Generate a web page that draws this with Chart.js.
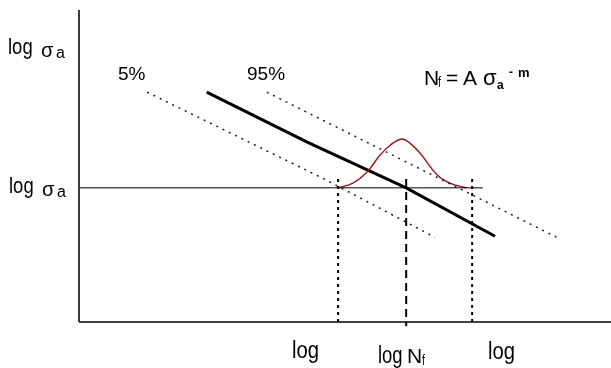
<!DOCTYPE html>
<html>
<head>
<meta charset="utf-8">
<script src="https://cdn.jsdelivr.net/npm/chart.js@4/dist/chart.umd.min.js"></script>
<style>
  html, body { margin: 0; padding: 0; background: #fff; }
  #caja { width: 611px; height: 368px; position: relative; }
</style>
</head>
<body>
<div id="caja"><canvas id="graficoSN"></canvas></div>
<script>
// escala esquematica: x = log N (0..100), y = log sigma_a (0..60)
const medianaX = [24.0, 42.9, 61.5, 78.2];
const medianaY = [44.2, 34.6, 25.8, 16.5];

const p5X = [12.8, 45.7, 66.9];
const p5Y = [44.2, 27.7, 16.3];

const p95X = [35.3, 89.8];
const p95Y = [44.2, 16.3];

const campanaX = [48.7, 51.5, 54.1, 56.6, 58.5, 60.7, 62.2, 64.1, 67.3, 69.7, 72.9];
const campanaY = [25.8, 26.7, 28.8, 32.1, 34.0, 35.2, 34.4, 32.5, 28.3, 26.7, 25.8];

const nivelSigma = 25.8;          // log sigma_a de ensayo
const nivelFinX = 75.9;
const verticalesX = [48.7, 61.5, 73.9]; // log N 5%, log Nf, log N 95%
const verticalTope = 27.5;

const juntar = (xs, ys) => xs.map((x, i) => ({ x: x, y: ys[i] }));

const textos = [
    { t: 'log', x: 8, y: 54, size: 22, sx: 0.84 },
    { t: 'σ', x: 41, y: 57, size: 20 },
    { t: 'a', x: 56, y: 58, size: 16 },
    { t: 'log', x: 9, y: 193, size: 22, sx: 0.84 },
    { t: 'σ', x: 42, y: 196, size: 20 },
    { t: 'a', x: 57, y: 197, size: 16 },
    { t: '5%', x: 118, y: 80, size: 19 },
    { t: '95%', x: 247, y: 80, size: 19 },
    { t: 'N', x: 424, y: 85, size: 21 },
    { t: 'f', x: 438, y: 87, size: 15, sx: 0.7 },
    { t: '=', x: 446, y: 85, size: 21 },
    { t: 'A', x: 463, y: 85, size: 21 },
    { t: 'σ', x: 483, y: 85, size: 22 },
    { t: 'a', x: 497, y: 89, size: 12, bold: true },
    { t: '-', x: 509, y: 76, size: 12, bold: true },
    { t: 'm', x: 518, y: 77, size: 13, bold: true },
    { t: 'log', x: 292, y: 358, size: 23, sx: 0.88 },
    { t: 'log', x: 378, y: 363, size: 23, sx: 0.8 },
    { t: 'N', x: 407, y: 363, size: 21 },
    { t: 'f', x: 422, y: 365, size: 15, sx: 0.7 },
    { t: 'log', x: 488, y: 359, size: 23, sx: 0.88 }
];

const pluginTextos = {
    id: 'textos',
    afterDraw(chart) {
        const ctx = chart.ctx;
        ctx.save();
        ctx.fillStyle = '#000';
        ctx.textBaseline = 'alphabetic';
        textos.forEach(e => {
            ctx.save();
            ctx.font = (e.bold ? 'bold ' : '') + e.size + 'px "Liberation Sans", Arial, sans-serif';
            ctx.translate(e.x, e.y);
            ctx.scale(e.sx || 1, 1);
            ctx.fillText(e.t, 0, 0);
            ctx.restore();
        });
        ctx.restore();
    }
};

const linea = (data, color, ancho, dash) => ({
    data: data,
    showLine: true,
    borderColor: color,
    borderWidth: ancho,
    borderDash: dash || [],
    pointRadius: 0,
    fill: false,
    tension: 0,
    clip: false
});

const datasets = [
    linea([{ x: 0, y: 0 }, { x: 0, y: 60 }], '#3a3a3a', 2),
    linea([{ x: 0, y: 0 }, { x: 100, y: 0 }], '#000', 1.5),
    linea([{ x: 0, y: nivelSigma }, { x: nivelFinX, y: nivelSigma }], '#000', 1),
    linea(juntar(p5X, p5Y), '#222', 1.5, [2, 5]),
    linea(juntar(p95X, p95Y), '#222', 1.5, [2, 5]),
    linea([{ x: verticalesX[0], y: verticalTope }, { x: verticalesX[0], y: 0 }], '#000', 2, [3, 4]),
    linea([{ x: verticalesX[1], y: verticalTope }, { x: verticalesX[1], y: -0.8 }], '#000', 2, [8, 5]),
    linea([{ x: verticalesX[2], y: verticalTope }, { x: verticalesX[2], y: 0 }], '#000', 2, [3, 4]),
    Object.assign(linea(juntar(campanaX, campanaY), '#a01212', 1.4), { tension: 0.4 }),
    linea(juntar(medianaX, medianaY), '#000', 3)
];

new Chart(document.getElementById('graficoSN'), {
    type: 'scatter',
    data: { datasets: datasets },
    options: {
        responsive: true,
        maintainAspectRatio: false,
        animation: false,
        layout: { padding: { left: 79, top: 10, right: 0, bottom: 46 } },
        scales: {
            x: { type: 'linear', min: 0, max: 100, display: false },
            y: { type: 'linear', min: 0, max: 60, display: false }
        },
        plugins: {
            legend: { display: false },
            tooltip: { enabled: false }
        }
    },
    plugins: [pluginTextos]
});
</script>
</body>
</html>
